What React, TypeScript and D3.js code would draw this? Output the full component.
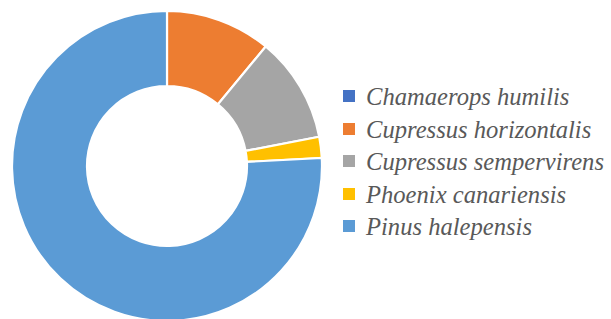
import React from 'react';
import * as d3 from 'd3';

const species = [
  'Chamaerops humilis',
  'Cupressus horizontalis',
  'Cupressus sempervirens',
  'Phoenix canariensis',
  'Pinus halepensis',
];
const counts = [0, 10, 10, 2, 69];
const colors = ['#4472C4', '#ED7D31', '#A5A5A5', '#FFC000', '#5B9BD5'];

const width = 611;
const height = 319;

export default function App() {
  const cx = 167;
  const cy = 166;
  const outerR = 155;
  const innerR = 80;

  const data = species.map((name, i) => ({ name, value: counts[i] }));
  const pie = d3.pie<{ name: string; value: number }>().sort(null).value(d => d.value);
  const arc = d3.arc<d3.PieArcDatum<{ name: string; value: number }>>()
    .innerRadius(innerR)
    .outerRadius(outerR);
  const color = d3.scaleOrdinal<string, string>().domain(species).range(colors);
  const row = d3.scalePoint<string>().domain(species).range([96, 226]);

  return (
    <svg width={width} height={height} style={{ position: 'absolute', left: 0, top: 0 }}>
      <g transform={`translate(${cx},${cy})`}>
        {pie(data).map(d => (
          <path
            key={d.data.name}
            d={arc(d) || ''}
            fill={color(d.data.name)}
            stroke="#fff"
            strokeWidth={2.2}
          />
        ))}
      </g>
      {species.map(s => (
        <rect key={s} x={343} y={Math.round(row(s) ?? 0) - 6} width={12} height={12} fill={color(s)} />
      ))}
      {species.map(s => (
        <text
          key={s}
          x={366}
          y={Math.round(row(s) ?? 0)}
          dy="0.35em"
          fill="#595959"
          fontFamily="Times New Roman"
          fontStyle="italic"
          fontSize={24.6}
        >
          {s}
        </text>
      ))}
    </svg>
  );
}
